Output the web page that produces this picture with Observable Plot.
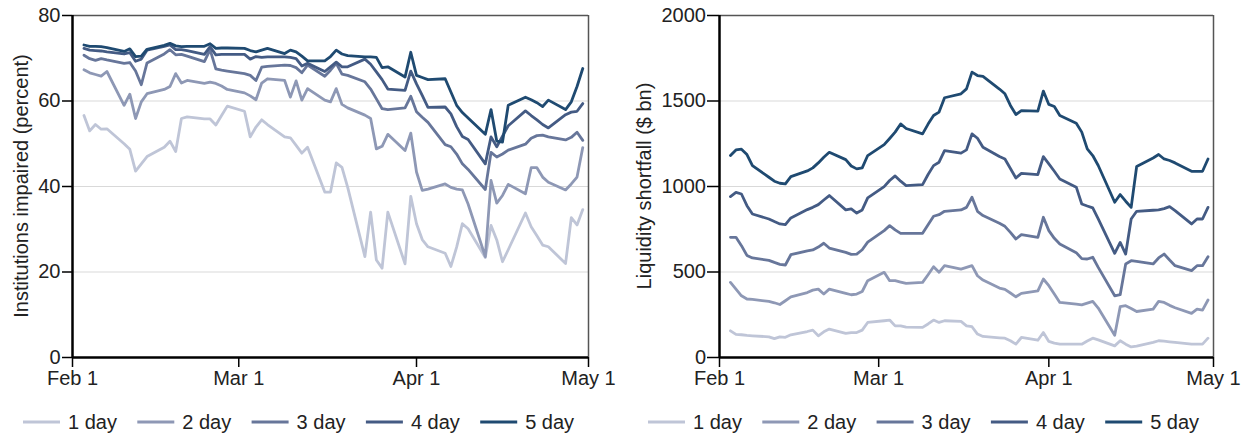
<!DOCTYPE html>
<html><head><meta charset="utf-8">
<script src="https://cdn.jsdelivr.net/npm/d3@7"></script>
<script src="https://cdn.jsdelivr.net/npm/@observablehq/plot@0.6"></script>
<style>
body{margin:0;background:#fff;font-family:'Liberation Sans',Arial,sans-serif;}
#wrap{position:relative;width:1247px;height:436px;overflow:hidden;}
.panel{position:absolute;top:0;}
.panel svg{display:block;}
</style></head><body>
<div id="wrap"><div class="panel" id="p1" style="left:0"></div><div class="panel" id="p2" style="left:620px"></div></div>
<script>
const dates = [
 "2020-02-03","2020-02-04","2020-02-05","2020-02-06","2020-02-07","2020-02-10","2020-02-11","2020-02-12","2020-02-13","2020-02-14",
 "2020-02-17","2020-02-18","2020-02-19","2020-02-20","2020-02-21","2020-02-24","2020-02-25","2020-02-26","2020-02-27","2020-02-28",
 "2020-03-02","2020-03-03","2020-03-04","2020-03-05","2020-03-06","2020-03-09","2020-03-10","2020-03-11","2020-03-12","2020-03-13",
 "2020-03-16","2020-03-17","2020-03-18","2020-03-19","2020-03-20","2020-03-23","2020-03-24","2020-03-25","2020-03-26","2020-03-27",
 "2020-03-30","2020-03-31",
 "2020-04-01","2020-04-02","2020-04-03","2020-04-06","2020-04-07","2020-04-08","2020-04-09","2020-04-10","2020-04-13","2020-04-14",
 "2020-04-15","2020-04-16","2020-04-17","2020-04-20","2020-04-21","2020-04-22","2020-04-23","2020-04-24","2020-04-27","2020-04-28",
 "2020-04-29","2020-04-30"];

const seriesNames = ["1 day","2 day","3 day","4 day","5 day"];
const seriesColors = ["#bfc5d7","#8e98b5","#67769a","#445b84","#1f4a71"];
const xTickDates = ["2020-02-01","2020-03-01","2020-04-01","2020-05-01"];

// Left: institutions impaired (percent)
const pct1 = [56.6,53.0,54.5,53.4,53.5,50.0,48.7,43.6,45.3,47.0,49.2,50.6,48.2,55.9,56.3,55.8,55.8,54.4,56.6,58.8,
 57.6,51.6,53.9,55.6,54.5,51.6,51.4,49.6,47.8,49.2,38.7,38.7,45.5,44.5,39.8,23.6,34.0,22.8,20.9,34.0,21.9,37.7,
 31.3,27.6,25.9,24.4,21.3,25.8,31.3,30.1,23.4,30.9,27.5,22.4,25.2,33.8,30.6,28.5,26.3,25.9,22.0,32.7,31.0,34.6];
const pct2 = [67.3,66.6,66.2,65.8,66.9,59.0,61.6,55.9,59.8,61.7,62.7,63.4,66.4,64.2,64.8,64.1,64.4,64.1,63.5,62.7,
 61.9,61.2,60.3,64.2,65.2,64.8,60.9,64.7,60.2,62.9,60.2,59.8,62.9,59.2,58.4,56.7,55.9,48.8,49.4,52.2,48.4,52.5,
 43.4,39.1,39.4,40.6,39.8,39.4,39.2,35.9,23.6,41.4,36.1,37.9,40.5,38.3,44.4,44.4,42.2,41.0,39.2,40.6,42.2,49.1];
const pct3 = [70.7,69.9,69.5,69.9,69.6,68.8,69.0,67.0,63.8,68.9,71.0,72.0,70.8,70.9,70.5,69.2,72.0,67.5,67.2,67.0,
 66.4,66.0,64.8,67.9,68.1,68.4,68.3,67.8,66.6,68.4,65.8,67.2,68.8,66.3,66.0,64.5,62.8,60.5,58.2,58.0,58.4,61.1,
 57.5,56.2,55.0,49.8,49.3,47.6,45.3,44.0,39.3,48.0,46.9,47.6,48.5,49.9,51.3,51.9,52.0,51.6,50.9,51.5,52.7,50.8];
const pct4 = [72.3,71.9,71.8,71.7,71.5,71.0,71.3,69.3,69.8,71.9,72.8,73.1,72.0,72.0,71.8,70.9,72.7,70.8,70.9,70.9,
 70.9,69.8,70.4,70.2,70.3,70.3,70.2,69.9,68.2,68.8,66.9,68.0,69.1,68.0,68.0,69.8,68.6,66.8,65.0,62.8,62.5,67.0,
 64.0,61.3,58.5,58.6,57.0,54.0,51.7,51.0,45.3,51.6,49.3,51.8,54.2,57.7,56.6,55.6,54.5,53.7,56.8,57.4,57.6,59.4];
const pct5 = [73.1,72.8,72.8,72.7,72.5,71.6,72.2,70.4,70.5,72.1,73.0,73.5,72.9,72.7,72.8,72.8,73.4,72.3,72.4,72.4,
 72.3,71.8,71.5,71.9,72.3,71.1,71.9,71.5,70.5,69.4,69.4,70.4,71.9,71.0,70.6,70.3,70.3,70.2,67.8,68.0,65.6,71.4,
 66.0,65.5,65.0,65.2,62.1,59.0,57.3,56.0,52.2,58.0,50.6,50.4,59.0,60.9,60.3,59.6,58.7,60.2,58.0,59.8,63.4,67.6];

// Right: liquidity shortfall ($ bn)
const usd1 = [156,135,133,129,127,121,110,121,118,133,152,160,127,150,166,141,146,146,160,205,
 215,219,185,185,178,176,196,219,205,215,211,185,180,137,123,115,113,98,78,117,101,146,
 94,84,78,78,78,96,113,103,68,98,78,62,66,88,98,96,92,88,78,78,78,113];
const usd2 = [439,400,361,342,340,328,320,310,332,355,380,394,400,371,400,375,367,371,386,449,
 498,449,449,441,433,439,484,531,498,537,517,527,537,478,453,406,398,377,355,375,390,459,
 420,371,322,312,308,318,328,289,130,297,303,287,269,283,328,322,305,291,258,283,277,336];
const usd3 = [703,703,654,597,582,568,556,545,541,601,623,629,646,668,640,615,603,605,630,675,
 742,771,746,726,726,726,777,826,835,855,863,878,937,855,830,785,767,732,693,718,703,820,
 742,697,664,613,578,576,586,527,361,367,547,566,562,547,582,605,570,537,508,537,537,589];
const usd4 = [941,966,956,888,839,810,795,781,777,816,865,878,894,921,947,863,869,845,863,933,
 999,1035,1062,1031,1005,1011,1070,1122,1142,1210,1195,1214,1308,1282,1230,1175,1161,1105,1050,1077,1070,1175,
 1132,1089,1044,996,898,886,875,810,609,673,605,810,855,861,863,871,882,859,781,810,810,878];
const usd5 = [1181,1214,1218,1187,1122,1054,1031,1019,1015,1058,1091,1109,1138,1171,1200,1157,1120,1103,1109,1181,
 1245,1281,1318,1366,1339,1308,1365,1415,1435,1519,1542,1571,1669,1649,1644,1570,1542,1474,1421,1444,1441,1558,
 1480,1468,1415,1370,1318,1220,1181,1123,908,953,914,878,1117,1167,1187,1161,1152,1138,1089,1089,1089,1161];

const parse = d3.utcParse("%Y-%m-%d");
const xTicks = xTickDates.map(parse);
const xStart = xTicks[0], xEnd = xTicks[xTicks.length - 1];
const FONT = "'Liberation Sans', Arial, sans-serif";

function makePanel(el, opts) {
  const table = opts.series.flatMap((vals, i) =>
    dates.map((d, j) => ({date: parse(d), value: vals[j], series: seriesNames[i]})));
  const svg = Plot.plot({
    width: opts.width, height: 395,
    marginLeft: opts.ml, marginRight: opts.mr, marginTop: 15, marginBottom: 38,
    style: {fontFamily: FONT, fontSize: "20px", color: "#222", background: "white", overflow: "visible"},
    x: {type: "utc", domain: [xStart, xEnd]},
    y: {domain: opts.yDomain},
    color: {domain: seriesNames, range: seriesColors},
    marks: [
      Plot.gridY(opts.yGrid, {stroke: "#d9d9d9", strokeOpacity: 1, strokeWidth: 1}),
      Plot.lineY(table, {x: "date", y: "value", stroke: "series", strokeWidth: 2.8,
        strokeLinejoin: "round", strokeLinecap: "round"}),
      Plot.ruleY([opts.yDomain[1]], {stroke: "#555", strokeWidth: 1.5}),
      Plot.ruleX([xEnd], {stroke: "#555", strokeWidth: 1.5}),
      Plot.axisY({ticks: opts.yTicks, tickSize: opts.tickSize, tickPadding: opts.tickPad,
        tickFormat: d => String(d), stroke: "#000", strokeWidth: 1.5, label: null}),
      Plot.axisX({ticks: xTicks, tickSize: 10, tickPadding: 3, tickFormat: d3.utcFormat("%b %-d"),
        stroke: "#000", strokeWidth: 1.5, label: null}),
      Plot.ruleX([xStart], {stroke: "#000", strokeWidth: 2.5}),
      Plot.ruleY([0], {stroke: "#000", strokeWidth: 2.5})
    ]
  });
  d3.select(svg).append("text")
    .attr("transform", `translate(${opts.labelX},186) rotate(-90)`)
    .attr("text-anchor", "middle")
    .attr("fill", "#222")
    .style("font-family", FONT).style("font-size", "20px")
    .text(opts.label);
  el.appendChild(svg);

  const leg = d3.create("svg").attr("width", opts.width).attr("height", 41)
    .style("font-family", FONT).style("font-size", "20px");
  seriesNames.forEach((name, i) => {
    const x0 = opts.legendX + i * 114.3;
    leg.append("line").attr("x1", x0).attr("x2", x0 + 37).attr("y1", 27).attr("y2", 27)
      .attr("stroke", seriesColors[i]).attr("stroke-width", 2.8);
    leg.append("text").attr("x", x0 + 45).attr("y", 33.5).attr("fill", "#222").text(name);
  });
  el.appendChild(leg.node());
}

makePanel(document.getElementById("p1"), {
  series: [pct1, pct2, pct3, pct4, pct5], width: 620, ml: 72, mr: 32,
  yDomain: [0, 80], yTicks: [0, 20, 40, 60, 80], yGrid: [20, 40, 60],
  tickSize: 10, tickPad: 2, label: "Institutions impaired (percent)", labelX: 28, legendX: 23
});
makePanel(document.getElementById("p2"), {
  series: [usd1, usd2, usd3, usd4, usd5], width: 627, ml: 99, mr: 34,
  yDomain: [0, 2000], yTicks: [0, 500, 1000, 1500, 2000], yGrid: [500, 1000, 1500],
  tickSize: 12, tickPad: 1.5, label: "Liquidity shortfall ($ bn)", labelX: 31, legendX: 28
});
</script>
</body></html>
